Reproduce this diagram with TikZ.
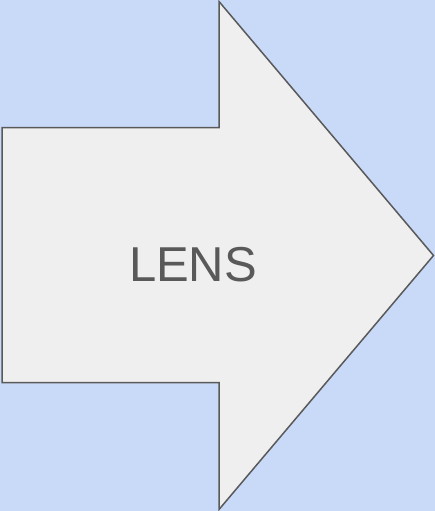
\documentclass[tikz,border=0pt]{standalone}
\usepackage{fontspec}
\setmainfont{Liberation Sans}
\definecolor{bgblue}{HTML}{C9DAF8}
\definecolor{arrowfill}{HTML}{EFEFEF}
\definecolor{arrowline}{HTML}{595959}
\tikzset{arrowshape/.style={fill=arrowfill, draw=arrowline, line width=1.5pt, line join=miter}}
\begin{document}
\begin{tikzpicture}[x=1pt,y=-1pt]
\fill[bgblue] (0,0) rectangle (435,511);
\useasboundingbox (0,0) rectangle (435,511);
\draw[arrowshape] (2,127.5) -- (219,127.5) -- (219,1.5) -- (433.5,255.5) -- (219,509.5) -- (219,382.5) -- (2,382.5) -- cycle;
\node[text=arrowline, font=\fontsize{49}{50}\selectfont, inner sep=0pt] (lens) at (193,265) {LENS};
\end{tikzpicture}
\end{document}
